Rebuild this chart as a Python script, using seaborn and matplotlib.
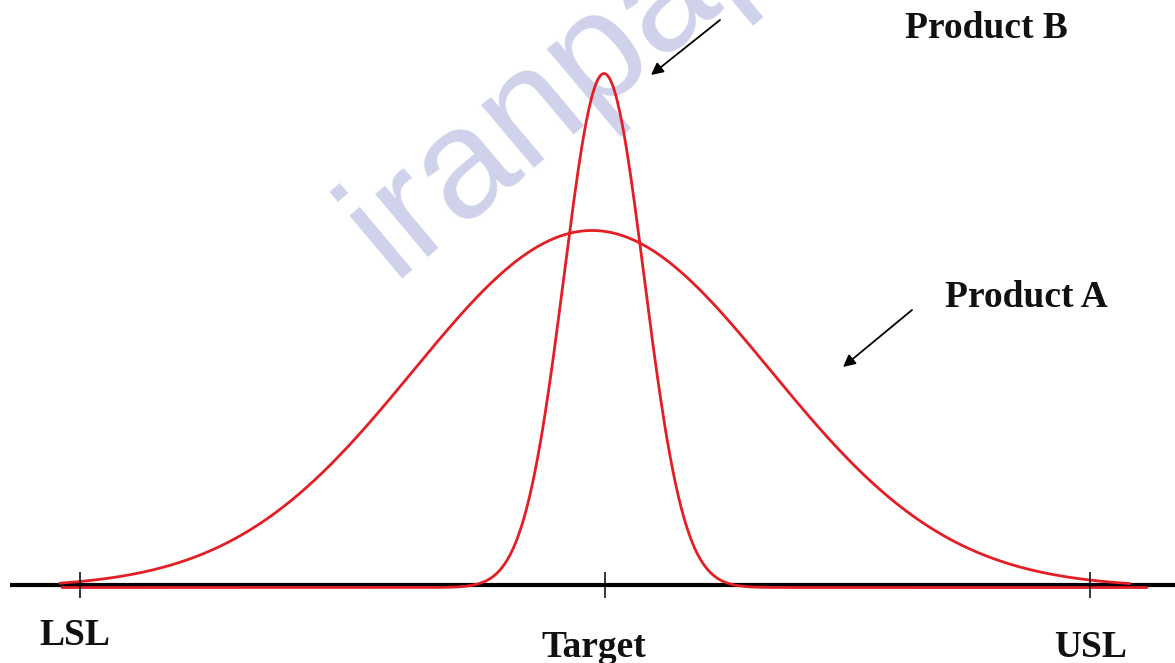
import numpy as np
import pandas as pd
import matplotlib
matplotlib.use("Agg")
import matplotlib.pyplot as plt
import seaborn as sns

# ---- data (horizontal units ~ pixels) ----
spec_labels = ["LSL", "Target", "USL"]
spec_positions = [80, 605, 1090]
products = ["Product A", "Product B"]
product_means = [592, 604]
product_sds = [179, 40]
product_peaks = [357, 514]
curve_starts = [60, 62]
curve_ends = [1130, 1147]

sns.set_theme(style="white")
plt.rcParams["font.family"] = ["Liberation Serif", "DejaVu Serif"]

rows = []
for name, mu, sd, pk, x0, x1 in zip(products, product_means, product_sds,
                                     product_peaks, curve_starts, curve_ends):
    xs = np.linspace(x0, x1, 800)
    ys = pk * np.exp(-0.5 * ((xs - mu) / sd) ** 2)
    rows.append(pd.DataFrame({"x": xs, "density": ys, "product": name}))
df = pd.concat(rows, ignore_index=True)

fig = plt.figure(figsize=(11.75, 6.63), dpi=100)
ax = fig.add_axes([0, 0, 1, 1])
ax.set_xlim(0, 1175)
ax.set_ylim(-75.5, 587.5)
ax.axis("off")

# watermark
ax.text(392, 309.5, "iranpaper.ir", rotation=40, rotation_mode="anchor",
        ha="left", va="baseline", fontsize=112, family=["Liberation Sans", "DejaVu Sans"],
        color="#cfd2ea", zorder=0)

# axis line and ticks
ax.hlines(2.5, 10, 1175, color="black", lw=3, zorder=2)
ax.vlines(spec_positions, -10.5, 15.5, color="black", lw=1.1, zorder=4)

sns.lineplot(data=df, x="x", y="density", hue="product",
             palette=["#e31e24", "#e31e24"], linewidth=2, legend=False,
             estimator=None, sort=False, ax=ax, zorder=3)
ax.set_xlim(0, 1175)
ax.set_ylim(-75.5, 587.5)
ax.axis("off")

label_y = [-57.5, -69.5, -69.5]
label_x = [75, 594, 1091]
for lab, lx, ly in zip(spec_labels, label_x, label_y):
    ax.text(lx, ly, lab, ha="center", va="baseline", fontsize=27,
            fontweight="bold", color="#111111")

ann_text_xy = [(1026, 280.5), (986, 549.5)]
ann_arrow_from = [(912, 277.5), (720, 567.5)]
ann_arrow_to = [(843, 220.5), (651, 512.5)]
for name, txy, a0, a1 in zip(products, ann_text_xy, ann_arrow_from, ann_arrow_to):
    ax.text(txy[0], txy[1], name, ha="center", va="baseline", fontsize=27,
            fontweight="bold", color="#111111")
    ax.annotate("", xy=a1, xytext=a0,
                arrowprops=dict(arrowstyle="-|>", color="black", lw=1.3,
                                mutation_scale=18, shrinkA=0, shrinkB=0))

fig.savefig("out.png", dpi=100)
